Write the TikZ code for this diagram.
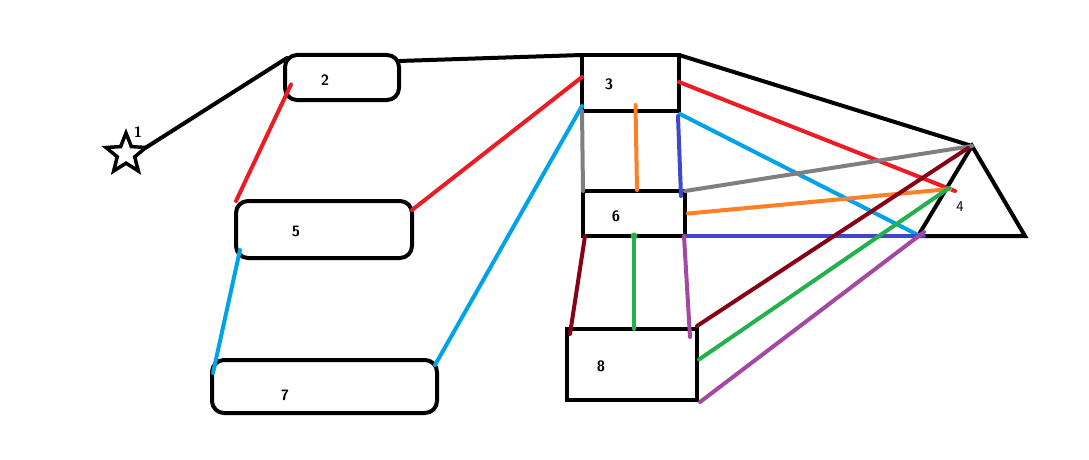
\documentclass[tikz,border=0pt]{standalone}
\usepackage{tikz}
\usetikzlibrary{shapes.geometric}
\usetikzlibrary{calc}

\definecolor{pred}{RGB}{237,28,36}
\definecolor{pcyan}{RGB}{0,162,232}
\definecolor{porange}{RGB}{255,127,39}
\definecolor{pgray}{RGB}{127,127,127}
\definecolor{pindigo}{RGB}{63,72,204}
\definecolor{pdarkred}{RGB}{136,0,21}
\definecolor{pgreen}{RGB}{34,177,76}
\definecolor{ppurple}{RGB}{163,73,164}

\begin{document}
\begin{tikzpicture}[x=1pt,y=-1pt,line width=4pt,
    box/.style={draw,rectangle,inner sep=0pt,outer sep=0pt},
    rbox/.style={box,rounded corners=12pt},
    num/.style={font=\sffamily\bfseries\fontsize{15}{17}\selectfont,inner sep=0pt},
    link/.style={line width=4pt,line cap=round}]
  \fill[white] (0,0) rectangle (1089,460);
  \useasboundingbox (0,0) rectangle (1089,460);

  \node[draw,star,star points=5,star point ratio=2.3,minimum size=42pt,line width=3.5pt,inner sep=0pt,outer sep=0pt] (st) at (126,154) {};
  \node[rbox,minimum width=114pt,minimum height=45pt] (b2) at (342,77.5) {};
  \node[box,minimum width=97pt,minimum height=56pt]  (b3) at (630.5,83) {};
  \node[box,minimum width=102pt,minimum height=45pt] (b6) at (634,213.5) {};
  \node[rbox,minimum width=176pt,minimum height=57pt] (b5) at (324,229.5) {};
  \node[rbox,minimum width=225pt,minimum height=53pt] (b7) at (324.5,386.5) {};
  \node[box,minimum width=130pt,minimum height=71pt] (b8) at (632,364.5) {};

  \coordinate (apex) at (972,146);
  \coordinate (tl)   at (918,236);
  \coordinate (tr)   at (1025,236);
  \coordinate (side) at (950,189);
  \draw[line join=miter] (apex) -- (tl) -- (tr) -- cycle;

  \node[num] at (138,132) {1};
  \node[num] at (325,80)  {2};
  \node[num] at (609,84)  {3};
  \node[num,font=\sffamily\fontsize{15}{17}\selectfont] at (960,207) {4};
  \node[num] at (296,231) {5};
  \node[num] at (616,216) {6};
  \node[num] at (285,395) {7};
  \node[num] at (601,366) {8};

  \draw[link] (st.outer point 5) -- ($(b2.north west)+(2,3)$);
  \draw[link] ($(b2.north east)+(0,6)$) -- (b3.north west);
  \draw[link] (b3.north east) -- (apex);

  \draw[link,pred] ($(b2.west)+(6,7)$) -- (b5.north west);
  \draw[link,pred] ($(b5.north east)+(0,9)$) -- ($(b3.west)+(0,-6)$);
  \draw[link,pred] ($(b3.east)+(0,-1)$) -- ($(side)+(5,2)$);

  \draw[link,pcyan] ($(b5.south west)+(4,-8)$) -- ($(b7.north west)+(1,13)$);
  \draw[link,pcyan] ($(b7.north east)+(-2,5)$) -- ($(b3.south west)+(0,-5)$);
  \draw[link,pcyan] ($(b3.south east)+(1,3)$) -- ($(tl)+(2,0)$);

  \draw[link,pgray] (b3.south west) -- (b6.north west);
  \draw[link,pgray] (b6.north east) -- (apex);

  \draw[link,porange] ($(b3.south)+(5,-6)$) -- ($(b6.north)+(3,-1)$);
  \draw[link,porange] ($(b6.east)+(3,0)$) -- (side);

  \draw[link,pindigo] ($(b3.south east)+(-1,5)$) -- ($(b6.north east)+(-4,5)$);
  \draw[link,pindigo] (b6.south east) -- ($(tl)+(6,0)$);

  \draw[link,pdarkred] ($(b6.south west)+(2,0)$) -- ($(b8.north west)+(3,5)$);
  \draw[link,pdarkred] ($(b8.north east)+(0,-3)$) -- ($(apex)+(-4,2)$);

  \fill[pgreen] (b6.south) circle (3.5pt);
  \draw[link,pgreen] (b6.south) -- ($(b8.north)+(2,0)$);
  \draw[link,pgreen] ($(b8.east)+(2,-5)$) -- ($(side)+(-1,-1)$);

  \draw[link,ppurple] ($(b6.south east)+(-1,0)$) -- ($(b8.north east)+(-7,8)$);
  \draw[link,ppurple] ($(b8.south east)+(3,2)$) -- ($(tl)+(6,-4)$);
\end{tikzpicture}
\end{document}
